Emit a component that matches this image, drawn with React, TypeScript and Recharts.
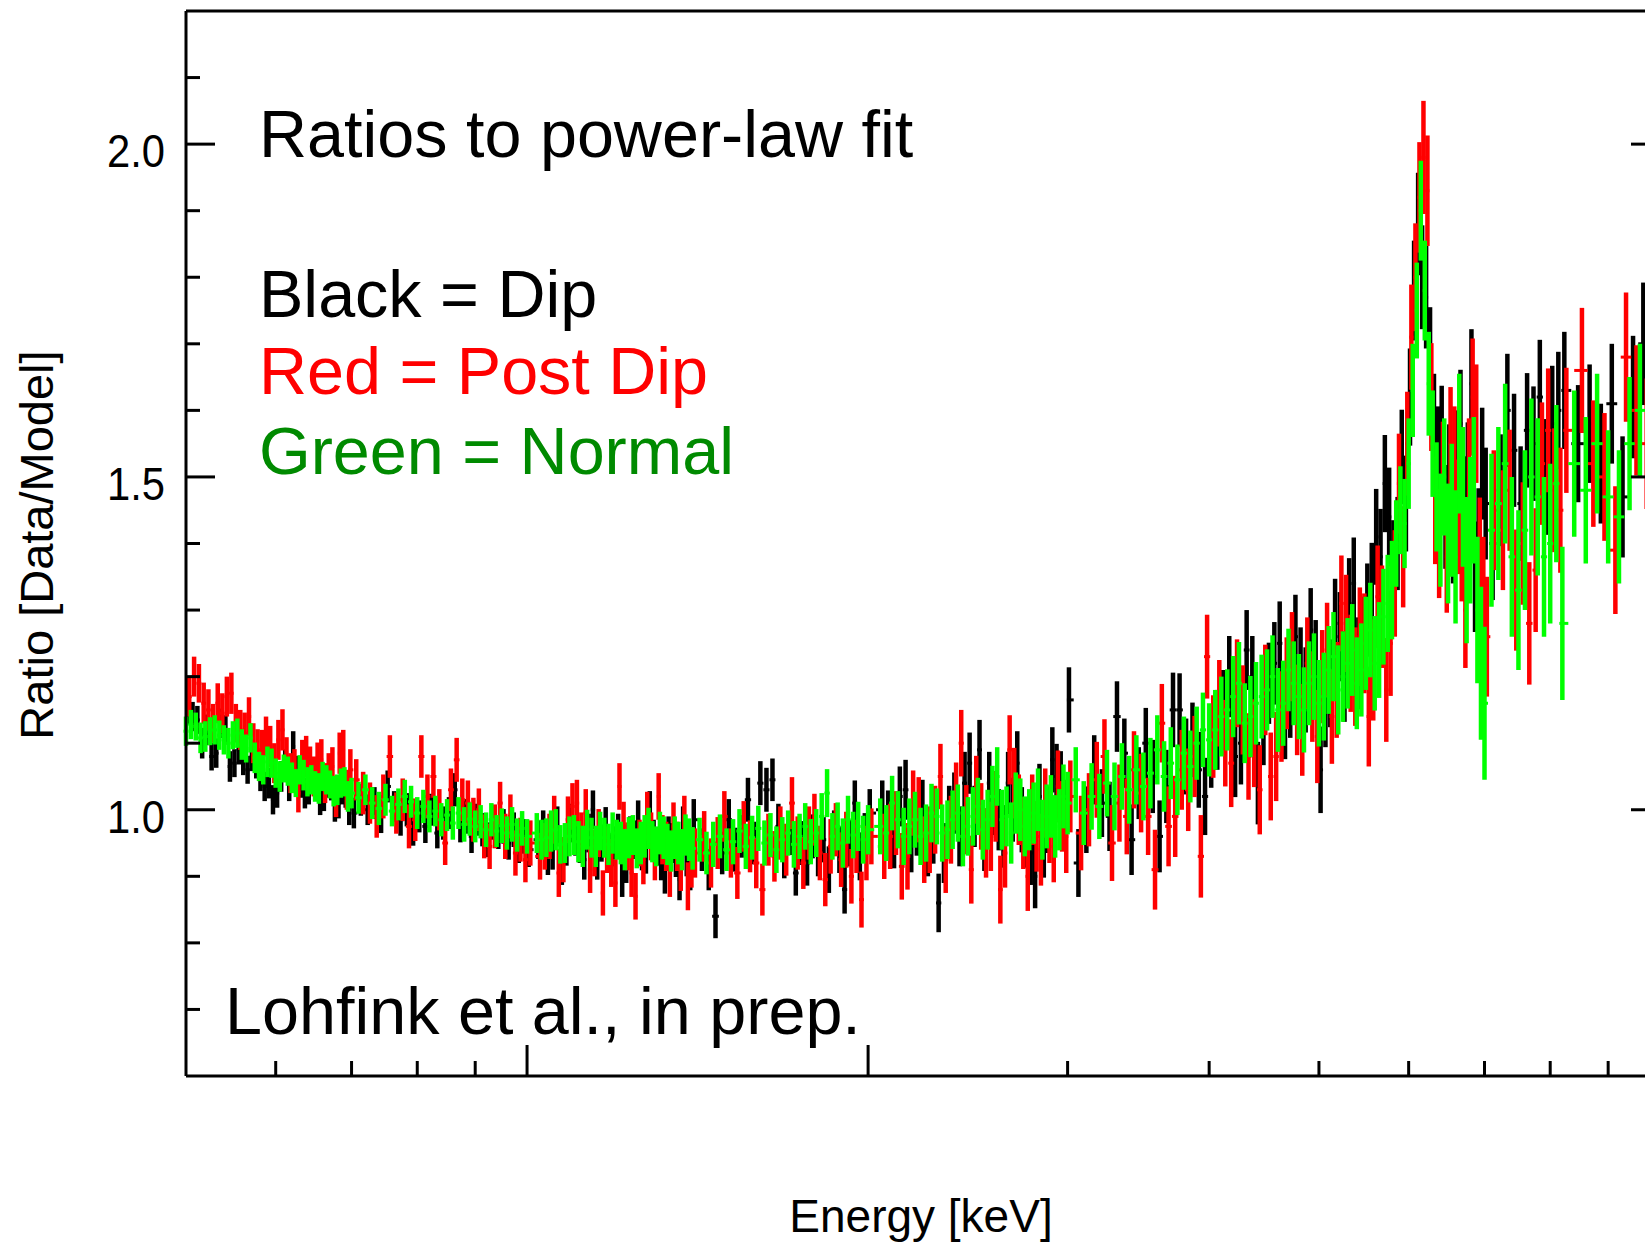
import React from 'react';
import { ScatterChart, Scatter, XAxis, YAxis, ErrorBar } from 'recharts';

// ---------- Green = Normal : bin centres (keV) ----------
const NORMAL_ENERGY = [
  0.50, 0.51, 0.52, 0.53, 0.54, 0.55, 0.56, 0.57, 0.58, 0.59, 0.60, 0.61, 0.62, 0.63, 0.64, 0.65, 0.66, 0.67, 0.68, 0.69,
  0.70, 0.71, 0.72, 0.73, 0.74, 0.75, 0.76, 0.77, 0.78, 0.79, 0.80, 0.81, 0.82, 0.83, 0.84, 0.85, 0.86, 0.87, 0.88, 0.89,
  0.90, 0.91, 0.92, 0.93, 0.94, 0.95, 0.96, 0.97, 0.98, 0.99, 1.00,
  1.02, 1.04, 1.06, 1.08, 1.10, 1.12, 1.14, 1.16, 1.18, 1.20, 1.22, 1.24, 1.26, 1.28, 1.30, 1.32, 1.34, 1.36, 1.38, 1.40,
  1.42, 1.44, 1.46, 1.48, 1.50, 1.52, 1.54, 1.56, 1.58, 1.60, 1.62, 1.64, 1.66, 1.68, 1.70, 1.72, 1.74, 1.76, 1.78, 1.80,
  1.82, 1.84, 1.86, 1.88, 1.90, 1.92, 1.94, 1.96, 1.98, 2.00,
  2.05, 2.10, 2.15, 2.20, 2.25, 2.30, 2.35, 2.40, 2.45, 2.50, 2.55, 2.60, 2.65, 2.70, 2.75, 2.80, 2.85, 2.90, 2.95, 3.00,
  3.05, 3.10, 3.15, 3.20, 3.25, 3.30, 3.35, 3.40, 3.45, 3.50, 3.55, 3.60, 3.65, 3.70, 3.75, 3.80, 3.85, 3.90, 3.95, 4.00,
  4.1, 4.2, 4.3, 4.4, 4.5, 4.6, 4.7, 4.8, 4.9, 5.0, 5.1, 5.2, 5.3, 5.4, 5.5, 5.6, 5.7, 5.8,
  5.85, 5.90, 5.95, 6.00, 6.05, 6.10, 6.15, 6.20, 6.25, 6.30, 6.35, 6.40, 6.45, 6.50,
  6.6, 6.7, 6.8, 6.9, 7.0,
  7.2, 7.4, 7.6, 7.8, 8.0, 8.2, 8.4, 8.6, 8.8, 9.0, 9.2, 9.4, 9.6, 9.8,
];
const NORMAL_ENERGY_FINE = [
  0.505, 0.515, 0.525, 0.535, 0.545, 0.555, 0.565, 0.575, 0.585, 0.595, 0.605, 0.615, 0.625, 0.635, 0.645, 0.655, 0.665, 0.675, 0.685, 0.695,
  1.03, 1.05, 1.07, 1.09, 1.11, 1.13, 1.15, 1.17, 1.19, 1.21, 1.23, 1.25, 1.27, 1.29, 1.31, 1.33, 1.35, 1.37, 1.39,
  2.075, 2.125, 2.175, 2.225, 2.275, 2.325, 2.375, 2.425, 2.475, 2.525, 2.575, 2.625, 2.675, 2.725, 2.775, 2.825, 2.875, 2.925, 2.975,
  4.05, 4.15, 4.25, 4.35, 4.45, 4.55, 4.65, 4.75, 4.85, 4.95, 5.05, 5.15, 5.25, 5.35, 5.45, 5.55, 5.65, 5.75,
  6.55, 6.65, 6.75, 6.85, 6.95, 7.1,
  7.3, 7.5, 7.7, 7.9, 8.1,
];

// ---------- Black = Dip : bin centres (keV) ----------
const DIP_ENERGY = [
  0.5017, 0.5117, 0.5217, 0.5317, 0.5417, 0.5517, 0.5617, 0.5717, 0.5817, 0.5917, 0.6017, 0.6117, 0.6217, 0.6317, 0.6417, 0.6517, 0.6617, 0.6717, 0.6817, 0.6917,
  0.7033, 0.7133, 0.7233, 0.7333, 0.7433, 0.7533, 0.7633, 0.7733, 0.7833, 0.7933, 0.8033, 0.8133, 0.8233, 0.8333, 0.8433, 0.8533, 0.8633, 0.8733, 0.8833, 0.8933,
  0.9033, 0.9133, 0.9233, 0.9333, 0.9433, 0.9533, 0.9633, 0.9733, 0.9833, 0.9933, 1.0033,
  1.0233, 1.0433, 1.0633, 1.0833, 1.1033, 1.1233, 1.1433, 1.1633, 1.1833, 1.2033, 1.2233, 1.2433, 1.2633, 1.2833, 1.3033, 1.3233, 1.3433, 1.3633, 1.3833, 1.4033,
  1.4267, 1.4467, 1.4667, 1.4867, 1.5067, 1.5267, 1.5467, 1.5667, 1.5867, 1.6067, 1.6267, 1.6467, 1.6667, 1.6867, 1.7067, 1.7267, 1.7467, 1.7667, 1.7867, 1.8067,
  1.8267, 1.8467, 1.8667, 1.8867, 1.9067, 1.9267, 1.9467, 1.9667, 1.9867, 2.0067,
  2.0583, 2.1083, 2.1583, 2.2083, 2.2583, 2.3083, 2.3583, 2.4083, 2.4583, 2.5083, 2.5583, 2.6083, 2.6583, 2.7083, 2.7583, 2.8083, 2.8583, 2.9083, 2.9583, 3.0083,
  3.0667, 3.1167, 3.1667, 3.2167, 3.2667, 3.3167, 3.3667, 3.4167, 3.4667, 3.5167, 3.5667, 3.6167, 3.6667, 3.7167, 3.7667, 3.8167, 3.8667, 3.9167, 3.9667, 4.0167,
  4.1167, 4.2167, 4.3167, 4.4167, 4.5167, 4.6167, 4.7167, 4.8167, 4.9167, 5.0167, 5.1167, 5.2167, 5.3167, 5.4167, 5.5167, 5.6167, 5.7167, 5.8167,
  5.8667, 5.9167, 5.9667, 6.0167, 6.0667, 6.1167, 6.1667, 6.2167, 6.2667, 6.3167, 6.3667, 6.4167, 6.4667, 6.5167,
  6.6167, 6.7167, 6.8167, 6.9167, 7.0167,
  7.233, 7.433, 7.633, 7.833, 8.033, 8.233, 8.467, 8.667, 8.867, 9.067, 9.267, 9.467, 9.667, 9.867,
];
const DIP_ENERGY_FINE = [
  0.5067, 0.5167, 0.5267, 0.5367, 0.5467, 0.5567, 0.5667, 0.5767, 0.5867, 0.5967, 0.6067, 0.6167, 0.6267, 0.6367, 0.6467, 0.6567, 0.6667, 0.6767, 0.6867, 0.6967,
  1.0333, 1.0533, 1.0733, 1.0933, 1.1133, 1.1333, 1.1533, 1.1733, 1.1933, 1.2133, 1.2333, 1.2533, 1.2733, 1.2933, 1.3133, 1.3333, 1.3533, 1.3733, 1.3933,
  2.0833, 2.1333, 2.1833, 2.2333, 2.2833, 2.3333, 2.3833, 2.4333, 2.4833, 2.5333, 2.5833, 2.6333, 2.6833, 2.7333, 2.7833, 2.8333, 2.8833, 2.9333, 2.9833,
  4.0667, 4.1667, 4.2667, 4.3667, 4.4667, 4.5667, 4.6667, 4.7667, 4.8667, 4.9667, 5.0667, 5.1667, 5.2667, 5.3667, 5.4667, 5.5667, 5.6667, 5.7667,
  6.5667, 6.6667, 6.7667, 6.8667, 6.9667, 7.1167,
  7.333, 7.533, 7.733, 7.933, 8.133,
];

// ---------- Red = Post Dip : bin centres (keV) ----------
const POST_DIP_ENERGY = [
  0.5033, 0.5133, 0.5233, 0.5333, 0.5433, 0.5533, 0.5633, 0.5733, 0.5833, 0.5933, 0.6033, 0.6133, 0.6233, 0.6333, 0.6433, 0.6533, 0.6633, 0.6733, 0.6833, 0.6933,
  0.7067, 0.7167, 0.7267, 0.7367, 0.7467, 0.7567, 0.7667, 0.7767, 0.7867, 0.7967, 0.8067, 0.8167, 0.8267, 0.8367, 0.8467, 0.8567, 0.8667, 0.8767, 0.8867, 0.8967,
  0.9067, 0.9167, 0.9267, 0.9367, 0.9467, 0.9567, 0.9667, 0.9767, 0.9867, 0.9967, 1.0067,
  1.0267, 1.0467, 1.0667, 1.0867, 1.1067, 1.1267, 1.1467, 1.1667, 1.1867, 1.2067, 1.2267, 1.2467, 1.2667, 1.2867, 1.3067, 1.3267, 1.3467, 1.3667, 1.3867, 1.4067,
  1.4333, 1.4533, 1.4733, 1.4933, 1.5133, 1.5333, 1.5533, 1.5733, 1.5933, 1.6133, 1.6333, 1.6533, 1.6733, 1.6933, 1.7133, 1.7333, 1.7533, 1.7733, 1.7933, 1.8133,
  1.8333, 1.8533, 1.8733, 1.8933, 1.9133, 1.9333, 1.9533, 1.9733, 1.9933, 2.0133,
  2.0667, 2.1167, 2.1667, 2.2167, 2.2667, 2.3167, 2.3667, 2.4167, 2.4667, 2.5167, 2.5667, 2.6167, 2.6667, 2.7167, 2.7667, 2.8167, 2.8667, 2.9167, 2.9667, 3.0167,
  3.0833, 3.1333, 3.1833, 3.2333, 3.2833, 3.3333, 3.3833, 3.4333, 3.4833, 3.5333, 3.5833, 3.6333, 3.6833, 3.7333, 3.7833, 3.8333, 3.8833, 3.9333, 3.9833, 4.0333,
  4.1333, 4.2333, 4.3333, 4.4333, 4.5333, 4.6333, 4.7333, 4.8333, 4.9333, 5.0333, 5.1333, 5.2333, 5.3333, 5.4333, 5.5333, 5.6333, 5.7333, 5.8333,
  5.8833, 5.9333, 5.9833, 6.0333, 6.0833, 6.1333, 6.1833, 6.2333, 6.2833, 6.3333, 6.3833, 6.4333, 6.4833, 6.5333,
  6.6333, 6.7333, 6.8333, 6.9333, 7.0333,
  7.267, 7.467, 7.667, 7.867, 8.067, 8.267, 8.533, 8.733, 8.933, 9.133, 9.333, 9.533, 9.733, 9.933,
];
const POST_DIP_ENERGY_FINE = [
  0.5083, 0.5183, 0.5283, 0.5383, 0.5483, 0.5583, 0.5683, 0.5783, 0.5883, 0.5983, 0.6083, 0.6183, 0.6283, 0.6383, 0.6483, 0.6583, 0.6683, 0.6783, 0.6883, 0.6983,
  1.0367, 1.0567, 1.0767, 1.0967, 1.1167, 1.1367, 1.1567, 1.1767, 1.1967, 1.2167, 1.2367, 1.2567, 1.2767, 1.2967, 1.3167, 1.3367, 1.3567, 1.3767, 1.3967,
  2.0917, 2.1417, 2.1917, 2.2417, 2.2917, 2.3417, 2.3917, 2.4417, 2.4917, 2.5417, 2.5917, 2.6417, 2.6917, 2.7417, 2.7917, 2.8417, 2.8917, 2.9417, 2.9917,
  4.0833, 4.1833, 4.2833, 4.3833, 4.4833, 4.5833, 4.6833, 4.7833, 4.8833, 4.9833, 5.0833, 5.1833, 5.2833, 5.3833, 5.4833, 5.5833, 5.6833, 5.7833,
  6.5833, 6.6833, 6.7833, 6.8833, 6.9833, 7.1333,
  7.367, 7.567, 7.767, 7.967, 8.167,
];

// ---------- Black = Dip : ratio and 1-sigma error ----------
const DIP_RATIO = [
  1.150, 1.135, 1.120, 1.085, 1.120, 1.070, 1.075, 1.080, 1.050, 1.040, 1.025, 1.070, 1.095, 1.040, 1.030, 1.045, 1.020, 1.035, 1.010, 1.025,
  0.995, 1.015, 1.000, 1.010, 0.990, 1.035, 1.005, 0.985, 1.000, 0.970, 0.990, 0.975, 1.000, 0.965, 0.980, 0.995, 1.030, 0.975, 0.990, 0.960,
  0.985, 0.970, 0.955, 0.980, 0.965, 0.975, 0.950, 0.970, 0.945, 0.960, 0.940,
  0.955, 0.930, 0.975, 0.945, 0.960, 0.925, 1.000, 0.950, 0.935, 0.965, 0.920, 0.955, 0.940, 0.998, 0.945, 0.905, 0.950, 0.895, 0.930, 0.985,
  0.940, 0.910, 0.840, 0.935, 0.985, 0.940, 0.960, 1.015, 0.950, 1.040, 1.030, 1.045, 0.975, 0.930, 0.965, 0.905, 0.950, 0.920, 0.960, 0.935,
  0.955, 0.910, 0.965, 0.940, 0.880, 0.950, 1.010, 0.930, 0.960, 0.995,
  1.000, 0.955, 1.030, 0.975, 0.945, 0.860, 0.990, 0.960, 1.070, 1.090, 1.040, 0.985, 1.040, 1.070, 0.960, 0.900, 0.945, 1.075, 1.040, 1.165,
  0.920, 0.985, 1.060, 1.010, 0.990, 1.140, 1.085, 0.955, 1.040, 1.100, 1.050, 0.960, 1.035, 1.150, 1.150, 1.080, 1.105, 1.060, 1.020, 1.090,
  1.15, 1.08, 1.24, 1.04, 1.19, 1.25, 1.17, 1.21, 1.27, 1.06, 1.19, 1.26, 1.31, 1.22, 1.30, 1.41, 1.49, 1.36,
  1.40, 1.53, 1.46, 1.62, 1.78, 1.88, 1.80, 1.77, 1.68, 1.58, 1.53, 1.56, 1.44, 1.50,
  1.52, 1.45, 1.64, 1.40, 1.46,
  1.48, 1.54, 1.57, 1.62, 1.58, 1.63, 1.55, 1.58, 1.52, 1.61, 1.47, 1.62, 1.70, 1.66,
];
const DIP_RATIO_FINE = [
  1.140, 1.100, 1.080, 1.130, 1.065, 1.090, 1.060, 1.070, 1.035, 1.015, 1.050, 1.035, 1.060, 1.025, 1.050, 1.015, 1.040, 1.005, 1.030, 1.000,
  0.970, 0.940, 0.915, 0.980, 0.950, 0.965, 0.925, 0.975, 0.945, 0.900, 0.960, 0.985, 0.935, 0.955, 0.925, 0.960, 0.930, 0.975, 0.910,
  0.985, 1.020, 0.950, 1.000, 0.965, 0.935, 1.010, 1.040, 0.990, 0.955, 1.010, 0.960, 1.000, 0.985, 0.935, 1.020, 0.985, 1.050, 0.995,
  1.12, 1.20, 1.10, 1.20, 1.13, 1.22, 1.14, 1.26, 1.18, 1.22, 1.16, 1.28, 1.20, 1.34, 1.25, 1.33, 1.38, 1.44,
  1.42, 1.58, 1.50, 1.35, 1.52, 1.40,
  1.60, 1.46, 1.55, 1.50, 1.60,
];
const DIP_ERR = [
  0.022, 0.021, 0.023, 0.022, 0.022, 0.021, 0.023, 0.022, 0.022, 0.023, 0.022, 0.021, 0.023, 0.022, 0.022, 0.023, 0.022, 0.021, 0.023, 0.022,
  0.023, 0.024, 0.023, 0.024, 0.025, 0.024, 0.023, 0.024, 0.025, 0.024, 0.024, 0.025, 0.024, 0.023, 0.025, 0.024, 0.025, 0.024, 0.026, 0.025,
  0.024, 0.025, 0.026, 0.025, 0.024, 0.026, 0.025, 0.026, 0.025, 0.026, 0.026,
  0.029, 0.028, 0.030, 0.029, 0.029, 0.030, 0.029, 0.028, 0.030, 0.029, 0.030, 0.029, 0.031, 0.030, 0.029, 0.031, 0.030, 0.031, 0.030, 0.031,
  0.032, 0.031, 0.033, 0.032, 0.031, 0.033, 0.032, 0.033, 0.032, 0.033, 0.033, 0.032, 0.034, 0.033, 0.033, 0.034, 0.033, 0.034, 0.033, 0.035,
  0.034, 0.035, 0.034, 0.035, 0.036, 0.035, 0.034, 0.036, 0.035, 0.036,
  0.044, 0.043, 0.045, 0.044, 0.045, 0.044, 0.046, 0.045, 0.046, 0.045, 0.047, 0.046, 0.047, 0.048, 0.047, 0.048, 0.047, 0.049, 0.048, 0.049,
  0.051, 0.050, 0.052, 0.051, 0.052, 0.053, 0.052, 0.053, 0.054, 0.053, 0.055, 0.054, 0.055, 0.056, 0.055, 0.057, 0.056, 0.057, 0.058, 0.057,
  0.060, 0.061, 0.060, 0.062, 0.061, 0.063, 0.062, 0.064, 0.063, 0.065, 0.066, 0.067, 0.068, 0.069, 0.070, 0.072, 0.073, 0.075,
  0.070, 0.071, 0.072, 0.073, 0.075, 0.077, 0.078, 0.077, 0.075, 0.075, 0.076, 0.077, 0.078, 0.079,
  0.080, 0.081, 0.082, 0.083, 0.084,
  0.084, 0.085, 0.086, 0.086, 0.087, 0.088, 0.088, 0.089, 0.090, 0.090, 0.091, 0.092, 0.092, 0.093,
];
const DIP_ERR_FINE = [
  0.022, 0.023, 0.021, 0.022, 0.023, 0.022, 0.021, 0.023, 0.022, 0.022, 0.023, 0.022, 0.021, 0.023, 0.022, 0.023, 0.022, 0.023, 0.022, 0.023,
  0.029, 0.030, 0.028, 0.029, 0.030, 0.029, 0.030, 0.029, 0.030, 0.031, 0.030, 0.029, 0.031, 0.030, 0.031, 0.030, 0.031, 0.030, 0.031,
  0.044, 0.045, 0.044, 0.045, 0.046, 0.045, 0.046, 0.047, 0.046, 0.047, 0.048, 0.047, 0.048, 0.049, 0.048, 0.049, 0.050, 0.049, 0.050,
  0.060, 0.061, 0.062, 0.061, 0.063, 0.062, 0.064, 0.063, 0.064, 0.065, 0.066, 0.067, 0.068, 0.069, 0.070, 0.071, 0.072, 0.074,
  0.080, 0.081, 0.082, 0.083, 0.084, 0.085,
  0.085, 0.086, 0.086, 0.087, 0.088,
];

// ---------- Red = Post Dip : ratio and 1-sigma error ----------
const POST_DIP_RATIO = [
  1.170, 1.190, 1.150, 1.160, 1.170, 1.130, 1.115, 1.100, 1.090, 1.095, 1.105, 1.080, 1.060, 1.075, 1.065, 1.070, 1.040, 1.065, 1.085, 1.030,
  1.045, 1.025, 1.010, 0.990, 1.020, 1.080, 0.995, 1.015, 0.975, 0.985, 1.080, 1.020, 1.050, 1.000, 0.950, 1.030, 1.075, 1.015, 1.010, 0.985,
  1.000, 0.960, 0.945, 0.975, 1.010, 0.960, 0.990, 0.935, 0.955, 0.925, 0.950,
  0.930, 0.960, 0.905, 0.985, 1.010, 0.995, 0.935, 0.875, 0.920, 1.035, 0.945, 0.870, 0.925, 0.960, 1.020, 0.945, 0.975, 0.915, 0.885, 0.935,
  0.960, 0.920, 0.950, 0.990, 0.935, 0.905, 0.975, 0.945, 0.920, 0.880, 0.955, 0.930, 0.965, 0.940, 1.010, 0.950, 0.920, 0.965, 0.985, 0.935,
  0.895, 0.945, 0.970, 0.925, 0.955, 0.900, 0.945, 0.865, 0.935, 0.960,
  0.945, 0.980, 0.930, 1.000, 0.955, 1.050, 0.970, 1.100, 0.910, 0.990, 0.960, 0.880, 1.090, 1.000, 0.900, 0.960, 1.010, 0.945, 0.990, 1.020,
  0.965, 1.000, 1.045, 1.080, 0.950, 1.010, 0.990, 1.060, 1.025, 0.990, 0.910, 1.130, 0.975, 0.990, 1.060, 1.030, 1.080, 0.930, 1.230, 1.110,
  1.10, 1.19, 1.08, 1.03, 1.05, 1.14, 1.23, 1.12, 1.17, 1.20, 1.14, 1.31, 1.22, 1.26, 1.14, 1.32, 1.18, 1.34,
  1.49, 1.38, 1.55, 1.71, 1.80, 1.92, 1.98, 1.93, 1.62, 1.45, 1.40, 1.50, 1.38, 1.55,
  1.44, 1.30, 1.62, 1.38, 1.26,
  1.42, 1.33, 1.28, 1.52, 1.48, 1.57, 1.66, 1.52, 1.50, 1.39, 1.68, 1.60, 1.55, 1.62,
];
const POST_DIP_RATIO_FINE = [
  1.200, 1.160, 1.130, 1.145, 1.175, 1.120, 1.140, 1.090, 1.110, 1.070, 1.120, 1.055, 1.025, 1.080, 1.050, 1.075, 1.055, 1.020, 1.090, 1.060,
  0.945, 0.985, 0.925, 1.005, 0.960, 0.910, 0.965, 0.940, 0.890, 0.975, 0.905, 0.950, 0.990, 0.930, 0.955, 0.905, 0.945, 0.985, 0.920,
  0.960, 0.915, 1.010, 0.940, 0.985, 0.925, 1.020, 0.985, 1.030, 0.950, 1.005, 0.935, 1.040, 0.965, 1.000, 0.940, 0.975, 1.035, 0.960,
  1.16, 1.07, 1.15, 1.10, 1.18, 1.08, 1.19, 1.15, 1.22, 1.11, 1.24, 1.18, 1.28, 1.20, 1.25, 1.21, 1.29, 1.25,
  1.52, 1.40, 1.50, 1.58, 1.32, 1.45,
  1.48, 1.40, 1.36, 1.57, 1.45,
];
const POST_DIP_ERR = [
  0.030, 0.029, 0.031, 0.030, 0.030, 0.029, 0.031, 0.030, 0.030, 0.031, 0.030, 0.029, 0.031, 0.030, 0.030, 0.031, 0.030, 0.029, 0.031, 0.030,
  0.031, 0.032, 0.031, 0.032, 0.033, 0.032, 0.031, 0.032, 0.033, 0.032, 0.032, 0.033, 0.032, 0.031, 0.033, 0.032, 0.033, 0.032, 0.034, 0.033,
  0.032, 0.033, 0.034, 0.033, 0.032, 0.034, 0.033, 0.034, 0.033, 0.034, 0.034,
  0.035, 0.034, 0.036, 0.035, 0.035, 0.036, 0.035, 0.034, 0.036, 0.035, 0.036, 0.035, 0.037, 0.036, 0.035, 0.037, 0.036, 0.037, 0.036, 0.037,
  0.038, 0.037, 0.039, 0.038, 0.037, 0.039, 0.038, 0.039, 0.038, 0.039, 0.039, 0.038, 0.040, 0.039, 0.039, 0.040, 0.039, 0.040, 0.039, 0.041,
  0.040, 0.041, 0.040, 0.041, 0.042, 0.041, 0.040, 0.042, 0.041, 0.042,
  0.049, 0.048, 0.050, 0.049, 0.050, 0.049, 0.051, 0.050, 0.051, 0.050, 0.052, 0.051, 0.052, 0.053, 0.052, 0.053, 0.052, 0.054, 0.053, 0.054,
  0.056, 0.055, 0.057, 0.056, 0.057, 0.058, 0.057, 0.058, 0.059, 0.058, 0.060, 0.059, 0.060, 0.061, 0.060, 0.062, 0.061, 0.062, 0.063, 0.062,
  0.065, 0.066, 0.065, 0.067, 0.066, 0.068, 0.067, 0.069, 0.068, 0.070, 0.071, 0.072, 0.073, 0.074, 0.075, 0.077, 0.078, 0.080,
  0.075, 0.076, 0.078, 0.079, 0.081, 0.083, 0.085, 0.083, 0.081, 0.081, 0.082, 0.083, 0.084, 0.085,
  0.086, 0.087, 0.088, 0.089, 0.090,
  0.090, 0.091, 0.092, 0.092, 0.093, 0.094, 0.094, 0.095, 0.096, 0.096, 0.097, 0.098, 0.098, 0.099,
];
const POST_DIP_ERR_FINE = [
  0.030, 0.031, 0.029, 0.030, 0.031, 0.030, 0.029, 0.031, 0.030, 0.030, 0.031, 0.030, 0.029, 0.031, 0.030, 0.031, 0.030, 0.031, 0.030, 0.031,
  0.035, 0.036, 0.034, 0.035, 0.036, 0.035, 0.036, 0.035, 0.036, 0.037, 0.036, 0.035, 0.037, 0.036, 0.037, 0.036, 0.037, 0.036, 0.037,
  0.049, 0.050, 0.049, 0.050, 0.051, 0.050, 0.051, 0.052, 0.051, 0.052, 0.053, 0.052, 0.053, 0.054, 0.053, 0.054, 0.055, 0.054, 0.055,
  0.065, 0.066, 0.067, 0.066, 0.068, 0.067, 0.069, 0.068, 0.069, 0.070, 0.071, 0.072, 0.073, 0.074, 0.075, 0.076, 0.077, 0.079,
  0.086, 0.087, 0.088, 0.089, 0.090, 0.090,
  0.091, 0.092, 0.093, 0.093, 0.094,
];

// ---------- Green = Normal : ratio and 1-sigma error ----------
const NORMAL_RATIO = [
  1.118, 1.125, 1.110, 1.120, 1.105, 1.112, 1.098, 1.108, 1.065, 1.072, 1.055, 1.062, 1.048, 1.060, 1.042, 1.035, 1.050, 1.038, 1.030, 1.042,
  1.025, 1.018, 1.030, 1.010, 1.002, 1.015, 0.998, 1.008, 1.020, 1.012, 0.995, 1.005, 0.990, 0.998, 0.985, 0.992, 0.980, 0.995, 0.978, 0.986,
  0.975, 0.982, 0.970, 0.985, 0.968, 0.976, 0.965, 0.978, 0.962, 0.972, 0.960,
  0.965, 0.958, 0.970, 0.950, 0.962, 0.945, 0.958, 0.968, 0.948, 0.955, 0.940, 0.962, 0.950, 0.972, 0.945, 0.958, 0.938, 0.950, 0.962, 0.942,
  0.955, 0.935, 0.948, 0.960, 0.940, 0.952, 0.968, 0.945, 0.958, 0.972, 0.950, 0.962, 0.940, 0.955, 0.965, 0.948, 0.960, 0.975, 0.952, 0.965,
  0.990, 1.025, 0.960, 0.975, 0.950, 0.985, 0.962, 0.975, 0.955, 0.970,
  0.975, 1.010, 0.960, 0.985, 0.965, 0.990, 0.970, 0.995, 0.975, 1.005, 0.985, 1.050, 0.990, 1.010, 0.975, 0.995, 0.970, 1.005, 0.985, 1.010,
  1.045, 0.995, 1.020, 1.005, 1.040, 1.020, 1.050, 1.030, 1.060, 1.035, 1.055, 1.090, 1.050, 1.070, 1.045, 1.085, 1.065, 1.100, 1.120, 1.105,
  1.14, 1.17, 1.13, 1.16, 1.18, 1.15, 1.21, 1.17, 1.19, 1.16, 1.21, 1.18, 1.22, 1.19, 1.25, 1.22, 1.29, 1.33,
  1.40, 1.45, 1.43, 1.52, 1.63, 1.75, 1.90, 1.78, 1.64, 1.55, 1.47, 1.42, 1.50, 1.40,
  1.38, 1.47, 1.42, 1.30, 1.16,
  1.46, 1.38, 1.42, 1.47, 1.40, 1.28, 1.52, 1.48, 1.55, 1.47, 1.44, 1.55, 1.60, 1.58,
];
const NORMAL_RATIO_FINE = [
  1.128, 1.108, 1.118, 1.112, 1.100, 1.115, 1.092, 1.078, 1.060, 1.070, 1.050, 1.058, 1.040, 1.052, 1.045, 1.032, 1.045, 1.028, 1.040, 1.020,
  0.955, 0.968, 0.948, 0.960, 0.952, 0.970, 0.945, 0.958, 0.965, 0.950, 0.958, 0.942, 0.960, 0.952, 0.965, 0.948, 0.958, 0.940, 0.955,
  0.965, 0.985, 0.975, 0.960, 0.995, 0.965, 0.985, 0.960, 0.990, 0.970, 1.020, 0.985, 0.965, 1.000, 0.985, 1.015, 0.990, 0.975, 1.020,
  1.12, 1.15, 1.19, 1.14, 1.17, 1.20, 1.16, 1.19, 1.15, 1.20, 1.17, 1.23, 1.20, 1.24, 1.21, 1.27, 1.24, 1.31,
  1.45, 1.55, 1.36, 1.48, 1.22, 1.42,
  1.52, 1.33, 1.50, 1.38, 1.49,
];
const NORMAL_ERR = [
  0.022, 0.021, 0.023, 0.022, 0.022, 0.021, 0.023, 0.022, 0.022, 0.023, 0.022, 0.021, 0.023, 0.022, 0.022, 0.023, 0.022, 0.021, 0.023, 0.022,
  0.023, 0.024, 0.023, 0.024, 0.025, 0.024, 0.023, 0.024, 0.025, 0.024, 0.024, 0.025, 0.024, 0.023, 0.025, 0.024, 0.025, 0.024, 0.026, 0.025,
  0.024, 0.025, 0.026, 0.025, 0.024, 0.026, 0.025, 0.026, 0.025, 0.026, 0.026,
  0.030, 0.029, 0.031, 0.030, 0.030, 0.031, 0.030, 0.029, 0.031, 0.030, 0.031, 0.030, 0.032, 0.031, 0.030, 0.032, 0.031, 0.032, 0.031, 0.032,
  0.033, 0.032, 0.034, 0.033, 0.032, 0.034, 0.033, 0.034, 0.033, 0.034, 0.034, 0.033, 0.035, 0.034, 0.034, 0.035, 0.034, 0.035, 0.034, 0.036,
  0.035, 0.036, 0.035, 0.036, 0.037, 0.036, 0.035, 0.037, 0.036, 0.037,
  0.042, 0.041, 0.043, 0.042, 0.043, 0.042, 0.044, 0.043, 0.044, 0.043, 0.045, 0.044, 0.045, 0.046, 0.045, 0.046, 0.045, 0.047, 0.046, 0.047,
  0.049, 0.048, 0.050, 0.049, 0.050, 0.051, 0.050, 0.051, 0.052, 0.051, 0.053, 0.052, 0.053, 0.054, 0.053, 0.055, 0.054, 0.055, 0.056, 0.055,
  0.060, 0.061, 0.060, 0.062, 0.061, 0.063, 0.062, 0.064, 0.063, 0.065, 0.066, 0.067, 0.068, 0.069, 0.070, 0.071, 0.072, 0.074,
  0.065, 0.066, 0.067, 0.068, 0.070, 0.072, 0.075, 0.075, 0.078, 0.080, 0.082, 0.085, 0.088, 0.090,
  0.100, 0.105, 0.110, 0.110, 0.115,
  0.115, 0.120, 0.120, 0.118, 0.120, 0.115, 0.110, 0.110, 0.105, 0.100, 0.100, 0.100, 0.100, 0.100,
];
const NORMAL_ERR_FINE = [
  0.022, 0.023, 0.021, 0.022, 0.023, 0.022, 0.021, 0.023, 0.022, 0.022, 0.023, 0.022, 0.021, 0.023, 0.022, 0.023, 0.022, 0.023, 0.022, 0.023,
  0.030, 0.031, 0.029, 0.030, 0.031, 0.030, 0.031, 0.030, 0.031, 0.032, 0.031, 0.030, 0.032, 0.031, 0.032, 0.031, 0.032, 0.031, 0.032,
  0.042, 0.043, 0.042, 0.043, 0.044, 0.043, 0.044, 0.045, 0.044, 0.045, 0.046, 0.045, 0.046, 0.047, 0.046, 0.047, 0.048, 0.047, 0.048,
  0.060, 0.061, 0.062, 0.061, 0.063, 0.062, 0.064, 0.063, 0.064, 0.065, 0.066, 0.067, 0.068, 0.069, 0.070, 0.071, 0.072, 0.073,
  0.100, 0.105, 0.110, 0.110, 0.115, 0.115,
  0.120, 0.120, 0.118, 0.120, 0.118,
];

const X_TICKS = [0.6, 0.7, 0.8, 0.9, 1, 2, 3, 4, 5, 6, 7, 8, 9];
const X_MAJOR_TICKS = [1, 2];
const Y_TICKS = [0.7, 0.8, 0.9, 1.0, 1.1, 1.2, 1.3, 1.4, 1.5, 1.6, 1.7, 1.8, 1.9, 2.0, 2.1];
const Y_LABELED_TICKS = [1.0, 1.5, 2.0];

const FONT = '"Liberation Sans", Arial, Helvetica, sans-serif';

type Pt = { e: number; y: number; ey: number; ex: [number, number] };

function buildSeries(
  energies: number[], values: number[], errors: number[],
  energiesFine: number[], valuesFine: number[], errorsFine: number[],
): Pt[] {
  const raw: { e: number; y: number; ey: number }[] = [];
  energies.forEach((e, i) => raw.push({ e, y: values[i], ey: errors[i] }));
  energiesFine.forEach((e, i) => raw.push({ e, y: valuesFine[i], ey: errorsFine[i] }));
  raw.sort((a, b) => a.e - b.e);
  const n = raw.length;
  return raw.map((p, i) => {
    const prev = i > 0 ? raw[i - 1].e : p.e - (raw[1].e - raw[0].e);
    const next = i < n - 1 ? raw[i + 1].e : p.e + (p.e - raw[n - 2].e);
    return { ...p, ex: [(p.e - prev) / 2, (next - p.e) / 2] as [number, number] };
  });
}

const dipData = buildSeries(DIP_ENERGY, DIP_RATIO, DIP_ERR, DIP_ENERGY_FINE, DIP_RATIO_FINE, DIP_ERR_FINE);
const postDipData = buildSeries(POST_DIP_ENERGY, POST_DIP_RATIO, POST_DIP_ERR, POST_DIP_ENERGY_FINE, POST_DIP_RATIO_FINE, POST_DIP_ERR_FINE);
const normalData = buildSeries(NORMAL_ENERGY, NORMAL_RATIO, NORMAL_ERR, NORMAL_ENERGY_FINE, NORMAL_RATIO_FINE, NORMAL_ERR_FINE);

const isMajorY = (v: number) => Y_LABELED_TICKS.some((t) => Math.abs(t - v) < 1e-6);

const BottomTick = (p: any) => {
  const major = X_MAJOR_TICKS.includes(p.payload.value);
  return <line x1={p.x} x2={p.x} y1={p.y} y2={p.y - (major ? 31 : 15)} stroke="#000" strokeWidth={3} />;
};
const TopTick = (p: any) => {
  const major = X_MAJOR_TICKS.includes(p.payload.value);
  return <line x1={p.x} x2={p.x} y1={p.y} y2={p.y + (major ? 31 : 15)} stroke="#000" strokeWidth={3} />;
};
const LeftTick = (p: any) => {
  const v = p.payload.value;
  const major = isMajorY(v);
  return (
    <g>
      <line x1={p.x} x2={p.x + (major ? 29 : 14)} y1={p.y} y2={p.y} stroke="#000" strokeWidth={3} />
      {major && (
        <text
          x={p.x - 21}
          y={p.y + 23}
          textAnchor="end"
          fontFamily={FONT}
          fontSize={46}
          textLength={58}
          lengthAdjust="spacingAndGlyphs"
          fill="#000"
        >
          {v.toFixed(1)}
        </text>
      )}
    </g>
  );
};
const RightTick = (p: any) => {
  const major = isMajorY(p.payload.value);
  return <line x1={p.x} x2={p.x - (major ? 29 : 14)} y1={p.y} y2={p.y} stroke="#000" strokeWidth={3} />;
};

const NoPoint = () => <g />;

const axisLineStyle = { stroke: '#000', strokeWidth: 3 };

export default function App() {
  return (
    <div style={{ position: 'absolute', left: 0, top: 0, width: 1645, height: 1244, overflow: 'hidden', background: '#fff' }}>
      <ScatterChart width={1680} height={1244} margin={{ top: 10, right: 19, bottom: 167, left: 185 }}>
        <XAxis
          xAxisId="b"
          dataKey="e"
          type="number"
          scale="log"
          domain={[0.5, 10]}
          allowDataOverflow
          ticks={X_TICKS}
          interval={0}
          height={1}
          tickSize={0}
          tickMargin={0}
          tickLine={false}
          tick={BottomTick}
          axisLine={axisLineStyle}
        />
        <XAxis
          xAxisId="t"
          orientation="top"
          type="number"
          scale="log"
          domain={[0.5, 10]}
          allowDataOverflow
          ticks={X_TICKS}
          interval={0}
          height={1}
          tickSize={0}
          tickMargin={0}
          tickLine={false}
          tick={TopTick}
          axisLine={axisLineStyle}
        />
        <YAxis
          yAxisId="l"
          dataKey="y"
          type="number"
          domain={[0.6, 2.2]}
          allowDataOverflow
          ticks={Y_TICKS}
          interval={0}
          width={1}
          tickSize={0}
          tickMargin={0}
          tickLine={false}
          tick={LeftTick}
          axisLine={axisLineStyle}
        />
        <YAxis
          yAxisId="r"
          orientation="right"
          type="number"
          domain={[0.6, 2.2]}
          allowDataOverflow
          ticks={Y_TICKS}
          interval={0}
          width={1}
          tickSize={0}
          tickMargin={0}
          tickLine={false}
          tick={RightTick}
          axisLine={axisLineStyle}
        />
        <Scatter name="Dip" data={dipData} xAxisId="b" yAxisId="l" shape={NoPoint} isAnimationActive={false}>
          <ErrorBar dataKey="ey" direction="y" width={0} stroke="#000000" strokeWidth={4.5} isAnimationActive={false} />
          <ErrorBar dataKey="ex" direction="x" width={0} stroke="#000000" strokeWidth={3} isAnimationActive={false} />
        </Scatter>
        <Scatter name="Post Dip" data={postDipData} xAxisId="b" yAxisId="l" shape={NoPoint} isAnimationActive={false}>
          <ErrorBar dataKey="ey" direction="y" width={0} stroke="#ff0000" strokeWidth={4.5} isAnimationActive={false} />
          <ErrorBar dataKey="ex" direction="x" width={0} stroke="#ff0000" strokeWidth={3} isAnimationActive={false} />
        </Scatter>
        <Scatter name="Normal" data={normalData} xAxisId="b" yAxisId="l" shape={NoPoint} isAnimationActive={false}>
          <ErrorBar dataKey="ey" direction="y" width={0} stroke="#00ff00" strokeWidth={4.5} isAnimationActive={false} />
          <ErrorBar dataKey="ex" direction="x" width={0} stroke="#00ff00" strokeWidth={3} isAnimationActive={false} />
        </Scatter>
      </ScatterChart>
      <svg
        width={1645}
        height={1244}
        style={{ position: 'absolute', left: 0, top: 0, pointerEvents: 'none' }}
        fontFamily={FONT}
      >
        <text x={259} y={157} fontSize={66.5} fill="#000">Ratios to power-law fit</text>
        <text x={259} y={317} fontSize={66.5} fill="#000">Black = Dip</text>
        <text x={259} y={394} fontSize={66.5} fill="#ff0000">Red = Post Dip</text>
        <text x={259} y={474} fontSize={66.5} fill="#008a00">Green = Normal</text>
        <text x={225} y={1034} fontSize={66.5} fill="#000">Lohfink et al., in prep.</text>
        <text x={921} y={1232} fontSize={46} textAnchor="middle" fill="#000">Energy [keV]</text>
        <text x={53} y={545} fontSize={47} textAnchor="middle" fill="#000" transform="rotate(-90 53 545)">
          Ratio [Data/Model]
        </text>
      </svg>
    </div>
  );
}
